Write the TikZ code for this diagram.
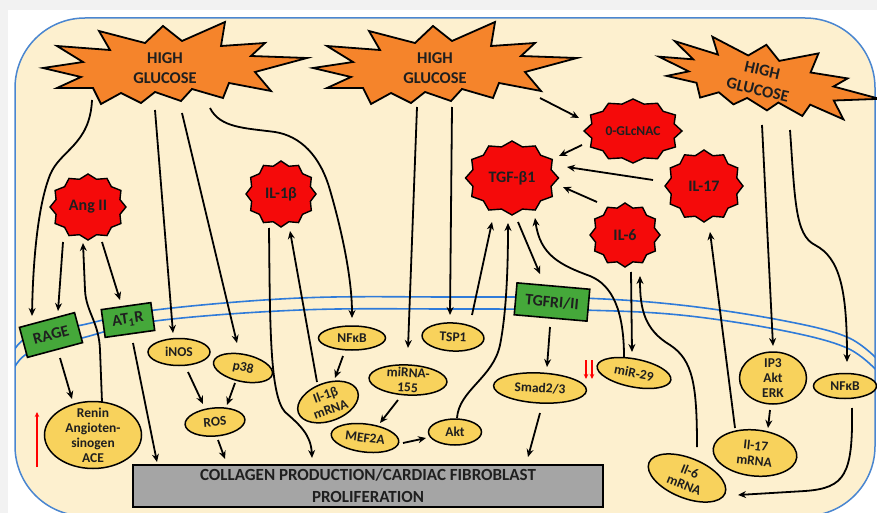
\documentclass[tikz,border=0pt]{standalone}
\usepackage{fontspec}
\setmainfont{Carlito}
\usetikzlibrary{arrows.meta,calc,shapes.geometric}
\pgfdeclarelayer{bg}
\pgfdeclarelayer{conn}
\pgfsetlayers{bg,conn,main}
\definecolor{bgray}{HTML}{F2F2F2}
\definecolor{cream}{HTML}{FDF0CF}
\definecolor{cellblue}{HTML}{4A86D0}
\definecolor{memblue}{HTML}{2F7BD9}
\definecolor{hgorange}{HTML}{F5842B}
\definecolor{sealred}{HTML}{F50A0A}
\definecolor{boxgreen}{HTML}{45A83A}
\definecolor{yelfill}{HTML}{F8D25C}
\definecolor{collgray}{HTML}{A5A5A5}
\tikzset{
  arr/.style={draw=black, line width=1.8pt, -{Stealth[length=8pt,width=7pt]}},
  redarr/.style={draw=red, line width=1.3pt, -{Stealth[length=5pt,width=4.5pt]}},
  memb/.style={draw=memblue, line width=1.6pt},
  hgline/.style={draw=black, line width=1.8pt, fill=hgorange, line join=miter},
  hgtext/.style={shape=ellipse, inner sep=0pt, minimum width=190pt, minimum height=60pt, align=center, text=black!88, font=\fontsize{16.5}{20}\selectfont\bfseries},
  sealline/.style={draw=black, line width=1.4pt, fill=sealred},
  sealtext/.style={shape=ellipse, inner sep=0pt, text=black!88, font=\fontsize{16}{19}\selectfont\bfseries},
  gbox/.style={draw=black, line width=1.6pt, fill=boxgreen, inner sep=0pt, text=black!88, font=\fontsize{16}{19}\selectfont\bfseries},
  yell/.style={shape=ellipse, draw=black, line width=1.5pt, fill=yelfill, inner sep=0pt},
  ylab/.style={align=center, inner sep=0pt, text=black!88, font=\fontsize{13.5}{15}\selectfont\bfseries},
  collbox/.style={draw=black, line width=1.6pt, fill=collgray, inner sep=0pt, align=center, text=black!88, font=\fontsize{17}{22}\selectfont\bfseries}
}
\newcommand\sealnode[6]{%
  \draw[sealline] plot[samples at={0,15,...,345}] ({#2+#4/2*(0.935+0.065*cos(12*\x))*cos(\x)},{#3+#5/2*(0.935+0.065*cos(12*\x))*sin(\x)}) -- cycle;
  \node[sealtext, minimum width=#4pt, minimum height=#5pt] (#1) at (#2,#3) {#6};}
\newcommand\hgnode[5]{%
  \draw[hgline, shift={(#2,#3)}, rotate=#4, scale=#5] (-122,0) -- (-82,-6) -- (-108,-22) -- (-55,-18) -- (-66,-37) -- (-20,-25) -- (-2,-42) -- (17,-27) -- (60,-46) -- (56,-22) -- (100,-25) -- (86,-12) -- (142,-10) -- (90,4) -- (106,23) -- (64,15) -- (58,30) -- (27,21) -- (16,33) -- (-10,24) -- (-24,35) -- (-44,25) -- (-64,36) -- (-72,20) -- (-108,20) -- (-84,9) -- cycle;
  \node[hgtext, rotate=#4] (#1) at (#2,#3) {HIGH\\GLUCOSE};}
\newcommand\yelnode[7]{%
  \node[yell, minimum width=#4pt, minimum height=#5pt, rotate=#6, label={[ylab, rotate=#6]center:{#7}}] (#1) at (#2,#3) {};}
\begin{document}
\begin{tikzpicture}[x=1pt,y=-1pt]
\useasboundingbox (0,0) rectangle (877,513);
\begin{pgfonlayer}{bg}
\fill[bgray] (0,0) rectangle (877,513);
\fill[white] (8,10) rectangle (877,513);
\draw[cellblue, line width=1.5pt, fill=cream, rounded corners=70pt] (15,18) rectangle (875,516);
\begin{scope}
\clip[rounded corners=70pt] (15,18) rectangle (875,516);
\draw[memb] plot[smooth, tension=0.6] coordinates {(13,352) (30,336) (82,325) (155,310) (300,298) (450,297) (580,298) (680,305) (780,320) (847,337) (880,362)};
\draw[memb] plot[smooth, tension=0.6] coordinates {(13,370) (30,352) (82,338) (155,321) (300,310) (450,309) (580,310) (680,315) (780,330) (847,348) (880,374)};
\end{scope}
\end{pgfonlayer}

% high glucose
\hgnode{hg1}{165}{68}{0}{1}
\hgnode{hg2}{435}{68}{0}{1}
\hgnode{hg3}{760}{80}{-13}{0.85}

% red mediators
\sealnode{angii}{88}{207}{76}{66}{Ang II}
\sealnode{il1b}{281}{194}{70}{66}{IL-1β}
\sealnode{tgfb1}{512}{178}{93}{74}{TGF-β1}
\sealnode{oglc}{633}{131}{98}{64}{\fontsize{13.5}{16}\selectfont 0-GLcNAC}
\sealnode{il17}{704}{186}{78}{72}{IL-17}
\sealnode{il6}{625}{235}{70}{64}{IL-6}

% receptors
\node[gbox, minimum width=57pt, minimum height=31pt, rotate=15] (rage) at (51,335) {RAGE};
\node[gbox, minimum width=50pt, minimum height=28pt, rotate=8] (at1r) at (128,320) {AT\textsubscript{1}R};
\node[gbox, minimum width=73pt, minimum height=32pt, rotate=-5] (tgfr) at (552,302) {TGFRI/II};

% intracellular
\yelnode{renin}{93}{435}{97}{67}{0}{Renin\\Angioten-\\sinogen\\ACE}
\yelnode{inos}{179}{352}{62}{27}{0}{iNOS}
\yelnode{p38}{243}{368}{60}{27}{-12}{p38}
\yelnode{ros}{215}{422}{60}{28}{5}{ROS}
\yelnode{nfkba}{352}{338}{67}{24}{0}{NFκB}
\yelnode{ilbm}{328}{402}{63}{38}{20}{Il-1β\\mRNA}
\yelnode{mir}{408}{380}{78}{30}{-3}{miRNA-\\155}
\yelnode{mef}{365}{438}{68}{28}{-7}{MEF2A}
\yelnode{akt}{455}{432}{53}{26}{0}{Akt}
\yelnode{tsp}{453}{337}{62}{28}{-3}{TSP1}
\yelnode{smad}{540}{388}{93}{30}{-3}{Smad2/3}
\yelnode{mirtn}{634}{373}{75}{28}{-11}{miR-29}
\yelnode{ip}{773}{378}{67}{52}{0}{IP3\\Akt\\ERK}
\yelnode{nfkbb}{845}{386}{63}{25}{0}{NFκB}
\yelnode{ilsm}{755}{453}{84}{46}{-6}{Il-17\\mRNA}
\yelnode{ilxm}{687}{478}{82}{40}{-22}{Il-6\\mRNA}

\node[collbox, minimum width=470pt, minimum height=42pt] (coll) at (368,486) {COLLAGEN PRODUCTION/CARDIAC FIBROBLAST\\PROLIFERATION};

% red indicator arrows
\coordinate (rua) at (37,467); \coordinate (rub) at (37,412);
\coordinate (rda) at (586,360); \coordinate (rdb) at (586,379);
\coordinate (rdc) at (592,360); \coordinate (rdd) at (592,379);
\draw[redarr] (rua) -- (rub);
\draw[redarr] (rda) -- (rdb);
\draw[redarr] (rdc) -- (rdd);

\begin{pgfonlayer}{conn}
\draw[arr] ([shift={(-73,32)}]hg1.center) .. controls (90,145) and (60,150) .. (50,175) .. controls (38,205) and (33,260) .. ([shift={(-19,-19)}]rage.center);
\draw[arr] ([shift={(-25,35)}]angii.center) -- ([shift={(7,-24)}]rage.center);
\draw[arr] ([shift={(14,35)}]angii.center) -- ([shift={(-8,-20)}]at1r.center);
\draw[arr] ([shift={(9,-33)}]renin.center) -- (100,350) .. controls (99,322) and (86,312) .. (85,290) -- ([shift={(-5,36)}]angii.center);
\draw[arr] ([shift={(9,23)}]rage.center) -- ([shift={(-21,-36)}]renin.center);
\draw[arr] ([shift={(5,23)}]at1r.center) -- ([shift={(-211,-24)}]coll.center);
\draw[arr] ([shift={(-10,42)}]hg1.center) -- ([shift={(-6,-19)}]inos.center);
\draw[arr] ([shift={(17,45)}]hg1.center) -- ([shift={(-6,-25)}]p38.center);
\draw[arr] ([shift={(45,40)}]hg1.center) .. controls (220,128) and (245,128) .. (275,132) .. controls (300,136) and (320,155) .. (330,190) .. controls (343,235) and (352,280) .. ([shift={(0,-20)}]nfkba.center);
\draw[arr] ([shift={(9,20)}]inos.center) -- ([shift={(-12,-18)}]ros.center);
\draw[arr] ([shift={(-8,15)}]p38.center) -- ([shift={(12,-17)}]ros.center);
\draw[arr] ([shift={(3,18)}]ros.center) -- ([shift={(-143,-27)}]coll.center);
\draw[arr] ([shift={(-12,34)}]il1b.center) .. controls (270,330) and (270,395) .. (285,412) .. controls (300,425) and (311,435) .. ([shift={(-56,-28)}]coll.center);
\draw[arr] ([shift={(-11,-20)}]ilbm.center) -- ([shift={(9,37)}]il1b.center);
\draw[arr] ([shift={(-9,18)}]nfkba.center) -- ([shift={(7,-24)}]ilbm.center);
\draw[arr] ([shift={(-18,39)}]hg2.center) -- ([shift={(0,-32)}]mir.center);
\draw[arr] ([shift={(17,39)}]hg2.center) -- ([shift={(-3,-22)}]tsp.center);
\draw[arr] ([shift={(19,-22)}]tsp.center) -- ([shift={(-20,44)}]tgfb1.center);
\draw[arr] ([shift={(-10,20)}]mir.center) -- ([shift={(15,-15)}]mef.center);
\draw[arr] ([shift={(38,5)}]mef.center) -- ([shift={(-29,6)}]akt.center);
\draw[arr] ([shift={(2,-14)}]akt.center) .. controls (459,390) and (493,378) .. (500,345) .. controls (507,310) and (508,260) .. ([shift={(-4,45)}]tgfb1.center);
\draw[arr] ([shift={(6,44)}]tgfb1.center) -- ([shift={(-12,-28)}]tgfr.center);
\draw[arr] ([shift={(-10,-16)}]mirtn.center) .. controls (624,310) and (612,285) .. (590,276) .. controls (560,265) and (540,255) .. ([shift={(23,40)}]tgfb1.center);
\draw[arr] ([shift={(6,37)}]il6.center) -- ([shift={(-2,-21)}]mirtn.center);
\draw[arr] ([shift={(10,-31)}]ilxm.center) .. controls (697,385) and (693,360) .. (670,345) .. controls (645,330) and (640,310) .. ([shift={(15,41)}]il6.center);
\draw[arr] ([shift={(-20,-25)}]ilsm.center) -- ([shift={(6,46)}]il17.center);
\draw[arr] ([shift={(2,45)}]hg3.center) -- ([shift={(0,-32)}]ip.center);
\draw[arr] ([shift={(30,50)}]hg3.center) .. controls (795,200) and (795,235) .. (815,245) .. controls (840,258) and (847,290) .. ([shift={(2,-24)}]nfkbb.center);
\draw[arr] ([shift={(-3,32)}]ip.center) -- ([shift={(13,-25)}]ilsm.center);
\draw[arr] ([shift={(7,22)}]nfkbb.center) .. controls (853,475) and (845,488) .. (805,491) -- ([shift={(51,17)}]ilxm.center);
\draw[arr] ([shift={(105,30)}]hg2.center) -- ([shift={(-54,-13)}]oglc.center);
\draw[arr] ([shift={(-51,14)}]oglc.center) -- ([shift={(47,-22)}]tgfb1.center);
\draw[arr] ([shift={(-51,-6)}]il17.center) -- ([shift={(55,-11)}]tgfb1.center);
\draw[arr] ([shift={(-28,-33)}]il6.center) -- ([shift={(51,9)}]tgfb1.center);
\draw[arr] ([shift={(-2,25)}]tgfr.center) -- ([shift={(7,-21)}]smad.center);
\draw[arr] ([shift={(0,25)}]smad.center) -- ([shift={(160,-29)}]coll.center);
\end{pgfonlayer}
\end{tikzpicture}
\end{document}
